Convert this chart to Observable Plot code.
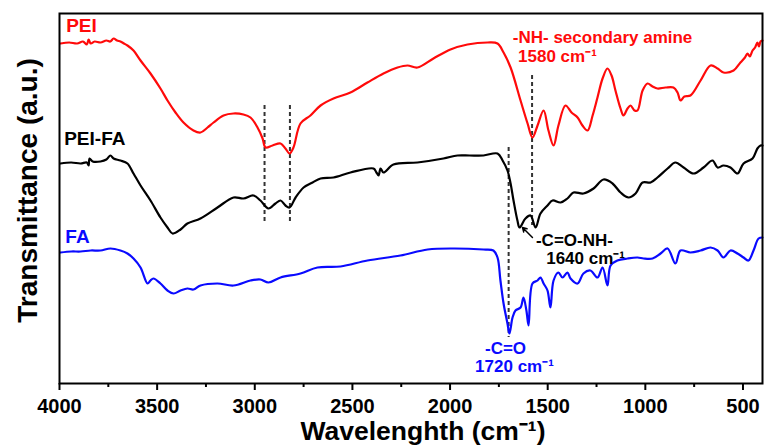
<!DOCTYPE html>
<html>
<head>
<meta charset="utf-8">
<script src="https://cdn.jsdelivr.net/npm/d3@7"></script>
<script src="https://cdn.jsdelivr.net/npm/@observablehq/plot@0.6"></script>
<style>
  html, body { margin: 0; padding: 0; background: #fff; }
</style>
</head>
<body>
<div id="chart"></div>
<script>
// ---- data (wavenumber cm^-1, transmittance a.u. with offsets) ----
const seriesNames = ["PEI", "PEI-FA", "FA"];
const seriesColors = ["#ff0a0a", "#000000", "#0a0aff"];

const pei = [
  [3995,340],[3950,341],[3910,340],[3880,342],[3860,339],[3851,344],[3840,340],[3820,342],[3790,341],
  [3760,343],[3740,342],[3723,345],[3705,343],[3688,342],[3670,340],[3652,338],[3621,333],[3585,323],
  [3534,310],[3483,295],[3447,283],[3406,271],[3365,261],[3314,253],[3278,251],[3242,256],[3211,261],
  [3160,268],[3109,270],[3058,269],[3022,266],[2986,256],[2960,245],[2945,236],[2909,238],[2868,240],
  [2843,235],[2822,230],[2802,236],[2766,260],[2715,268],[2663,278],[2597,285],[2510,291],[2423,301],
  [2341,310],[2269,316],[2218,318],[2167,316],[2085,325],[1998,334],[1911,339],[1808,341],[1757,340],
  [1726,331],[1690,316],[1639,283],[1603,260],[1578,246],[1552,258],[1521,273],[1496,253],[1470,238],
  [1445,258],[1409,278],[1378,271],[1347,266],[1322,258],[1296,253],[1270,268],[1245,286],[1219,305],
  [1194,315],[1173,308],[1153,293],[1127,275],[1112,268],[1091,275],[1076,278],[1055,273],[1040,273],
  [1014,293],[989,300],[963,297],[938,295],[897,296],[856,296],[835,291],[820,283],[800,287],[769,288],
  [717,303],[666,318],[630,315],[600,311],[548,313],[513,321],[490,326],[477,330],[465,327],[451,333],
  [438,336],[426,341],[418,337],[410,342],[400,343]
];

const peiFa = [
  [3995,220],[3940,221],[3892,220],[3860,221],[3851,218],[3846,225],[3830,222],[3790,222],[3760,224],
  [3739,228],[3723,225],[3688,223],[3652,220],[3621,210],[3585,198],[3534,183],[3483,166],[3447,156],
  [3421,150],[3380,154],[3345,160],[3278,165],[3191,176],[3109,186],[3058,185],[3007,188],[2971,183],
  [2930,175],[2894,180],[2868,183],[2843,178],[2822,176],[2791,186],[2750,196],[2704,201],[2663,205],
  [2597,206],[2510,211],[2392,215],[2377,211],[2366,208],[2356,215],[2341,211],[2290,219],[2167,221],
  [2034,225],[1962,228],[1900,228],[1829,228],[1757,230],[1731,223],[1706,213],[1690,200],[1675,183],
  [1655,163],[1644,156],[1614,165],[1588,168],[1562,156],[1537,170],[1501,178],[1475,183],[1434,181],
  [1399,185],[1368,191],[1317,190],[1265,195],[1214,204],[1168,200],[1127,191],[1086,186],[1050,190],
  [1014,201],[973,201],[938,206],[886,215],[846,221],[804,216],[753,210],[702,216],[656,223],[630,216],
  [600,218],[564,216],[528,210],[497,220],[451,225],[426,235],[410,238],[400,238]
];

const fa = [
  [3995,131],[3940,132],[3892,132],[3840,133],[3790,133],[3739,135],[3688,133],[3652,130],[3621,125],
  [3585,116],[3549,100],[3534,103],[3519,105],[3483,100],[3447,93],[3416,90],[3380,93],[3345,95],
  [3314,94],[3278,98],[3191,100],[3109,98],[3022,103],[2971,104],[2930,101],[2868,106],[2766,110],
  [2679,116],[2561,117],[2423,123],[2254,128],[2115,134],[1982,135],[1829,134],[1778,133],[1757,126],
  [1742,103],[1726,80],[1706,60],[1696,50],[1680,66],[1665,73],[1639,76],[1624,86],[1609,73],[1598,58],
  [1578,100],[1552,103],[1537,106],[1521,100],[1501,93],[1486,76],[1470,103],[1445,111],[1424,106],
  [1399,111],[1383,105],[1347,100],[1317,110],[1281,113],[1245,106],[1219,116],[1194,98],[1178,118],
  [1143,123],[1091,125],[1040,126],[1009,125],[963,125],[922,130],[886,135],[846,120],[820,133],
  [769,131],[717,133],[666,136],[630,133],[600,126],[564,133],[528,130],[497,126],[472,123],[446,133],
  [420,145],[400,146]
];

const majorTicks = [4000, 3500, 3000, 2500, 2000, 1500, 1000, 500];
const minorTicks = [3750, 3250, 2750, 2250, 1750, 1250, 750];

const dashLines = [
  {wn: 2950, t1: 278, t2: 161},
  {wn: 2820, t1: 278, t2: 161},
  {wn: 1580, t1: 308, t2: 158},
  {wn: 1700, t1: 236, t2: 46}
];

const seriesLabels = [
  {series: "PEI", wn: 3966, t: 358, text: "PEI"},
  {series: "PEI-FA", wn: 3976, t: 245, text: "PEI-FA"},
  {series: "FA", wn: 3970, t: 147, text: "FA"}
];

const annotations = [
  {series: "PEI", wn: 1219, t: 346, text: "-NH- secondary amine"},
  {series: "PEI", wn: 1450, t: 327, text: "1580 cm\u207B\u00B9"},
  {series: "PEI-FA", wn: 1363, t: 143, text: "-C=O-NH-"},
  {series: "PEI-FA", wn: 1306, t: 125, text: "1640 cm\u207B\u00B9"},
  {series: "FA", wn: 1716, t: 35, text: "-C=O"},
  {series: "FA", wn: 1670, t: 17, text: "1720 cm\u207B\u00B9"}
];

const arrows = [{x1: 1578, y1: 146, x2: 1629, y2: 156}];

// ---- build table ----
const rows = [];
[[seriesNames[0], pei], [seriesNames[1], peiFa], [seriesNames[2], fa]].forEach(([name, arr]) => {
  arr.forEach(([wn, t]) => rows.push({series: name, wn, t}));
});

const font = "'Liberation Sans', Arial, Helvetica, sans-serif";

const chart = Plot.plot({
  width: 766,
  height: 448,
  marginLeft: 59,
  marginRight: 4,
  marginTop: 13,
  marginBottom: 65,
  style: {fontFamily: font, background: "#fff", color: "#000"},
  x: {domain: [4000, 400]},
  y: {domain: [0, 370], axis: null},
  color: {domain: seriesNames, range: seriesColors},
  marks: [
    Plot.ruleX(dashLines, {x: "wn", y1: "t1", y2: "t2", stroke: "#333", strokeWidth: 2, strokeDasharray: "4,3"}),
    Plot.line(rows, {x: "wn", y: "t", z: "series", stroke: "series", strokeWidth: 2.2, strokeLinejoin: "round", curve: "catmull-rom"}),
    Plot.text(seriesLabels, {x: "wn", y: "t", text: "text", fill: "series", textAnchor: "start", fontSize: 19, fontWeight: "bold"}),
    Plot.text(annotations, {x: "wn", y: "t", text: "text", fill: "series", fontSize: 17, fontWeight: "bold"}),
    Plot.arrow(arrows, {x1: "x1", y1: "y1", x2: "x2", y2: "y2", stroke: "black", strokeWidth: 1.5, headLength: 7}),
    Plot.frame({stroke: "black", strokeWidth: 2}),
    Plot.axisX(minorTicks, {tickSize: 4, strokeWidth: 2, tickFormat: () => "", label: null}),
    Plot.axisX(majorTicks, {tickSize: 7, strokeWidth: 2, tickPadding: 8, fontSize: 20, fontWeight: "bold", tickFormat: d => String(d), label: null}),
    Plot.text(["Wavelenghth (cm\u207B\u00B9)"], {text: d => d, frameAnchor: "bottom", textAnchor: "middle", lineAnchor: "top", dy: 38, dx: 12, fontSize: 26.5, fontWeight: "bold"}),
    Plot.text(["Transmittance (a.u.)"], {text: d => d, frameAnchor: "left", textAnchor: "middle", rotate: -90, dx: -31, dy: -8, fontSize: 28, fontWeight: "bold"})
  ]
});
document.getElementById("chart").appendChild(chart);
</script>
</body>
</html>
